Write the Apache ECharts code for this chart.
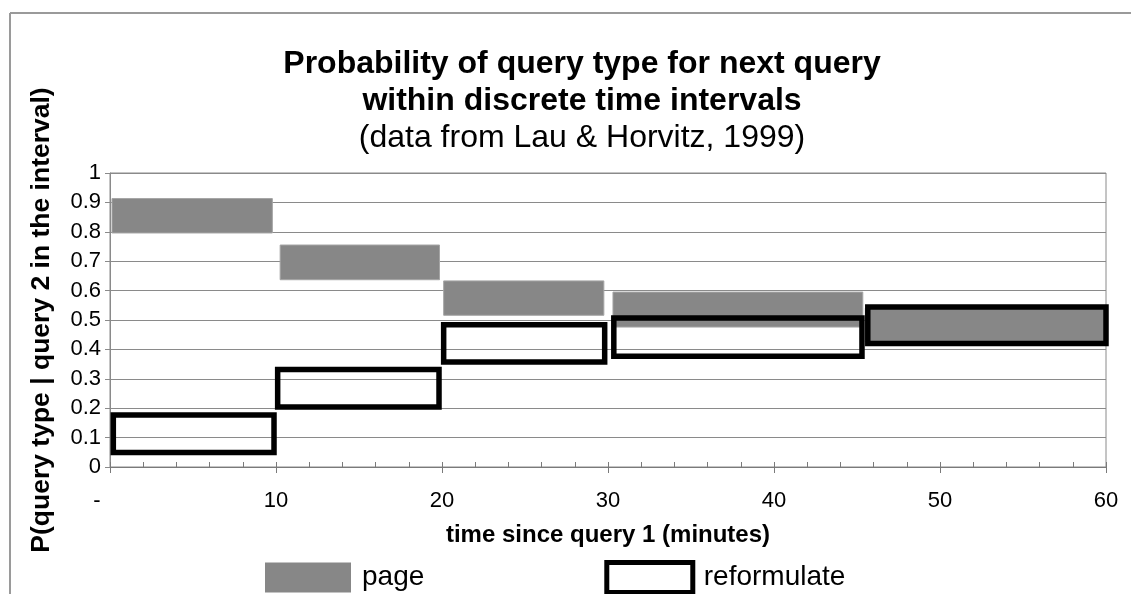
<!DOCTYPE html>
<html>
<head>
<meta charset="utf-8">
<script src="https://cdn.jsdelivr.net/npm/echarts@6/dist/echarts.min.js"></script>
<style>
  html, body { margin: 0; padding: 0; background: #fff; }
  #chart { width: 1131px; height: 594px; }
</style>
</head>
<body>
<div id="chart"></div>
<script>
// Time since query 1 (minutes): extent of each interval block
const pageStart   = [0.12, 10.25, 20.1, 30.3, 45.5];
const pageEnd     = [9.78, 19.85, 29.75, 45.35, 60];
// Probability range for "page" in each interval
const pageLow     = [0.796, 0.637, 0.516, 0.476, 0.425];
const pageHigh    = [0.913, 0.755, 0.633, 0.595, 0.540];

const reformStart = [0.2, 10.1, 20.1, 30.35, 45.65];
const reformEnd   = [9.88, 19.82, 29.8, 45.3, 60];
// Probability range for "reformulate" in each interval
const reformLow   = [0.049, 0.204, 0.357, 0.377, 0.420];
const reformHigh  = [0.177, 0.332, 0.484, 0.507, 0.544];

const xTicks = [0, 10, 20, 30, 40, 50, 60];
const yTicks = [0, 0.1, 0.2, 0.3, 0.4, 0.5, 0.6, 0.7, 0.8, 0.9, 1];

const FONT = '"Liberation Sans", Arial, sans-serif';

function rows(s, e, lo, hi) {
  return s.map((v, i) => [v, e[i], lo[i], hi[i]]);
}

function boxRenderer(style) {
  return function (params, api) {
    const p0 = api.coord([api.value(0), api.value(3)]);
    const p1 = api.coord([api.value(1), api.value(2)]);
    return {
      type: 'rect',
      shape: { x: p0[0], y: p0[1], width: p1[0] - p0[0], height: p1[1] - p0[1] },
      style: style
    };
  };
}

const chart = echarts.init(document.getElementById('chart'), null, { renderer: 'canvas' });

chart.setOption({
  backgroundColor: '#fff',
  animation: false,
  textStyle: { fontFamily: FONT, color: '#000' },
  title: {
    text: 'Probability of query type for next query\nwithin discrete time intervals',
    subtext: '(data from Lau & Horvitz, 1999)',
    left: 577,
    textAlign: 'center',
    top: 41,
    itemGap: 0,
    textStyle: { fontFamily: FONT, fontSize: 32, fontWeight: 'bold', color: '#000', lineHeight: 37 },
    subtextStyle: { fontFamily: FONT, fontSize: 32, color: '#000', lineHeight: 36 }
  },
  graphic: [
    { type: 'line', shape: { x1: 10, y1: 13, x2: 1131, y2: 13 }, style: { stroke: '#9a9a9a', lineWidth: 2 } },
    { type: 'line', shape: { x1: 10, y1: 13, x2: 10, y2: 594 }, style: { stroke: '#9a9a9a', lineWidth: 2 } }
  ],
  legend: {
    left: 260,
    top: 555,
    itemWidth: 86,
    itemHeight: 30,
    itemGap: 180,
    textStyle: { fontFamily: FONT, fontSize: 28, color: '#000', padding: [0, 0, 0, 6] },
    data: [
      { name: 'page', icon: 'rect', itemStyle: { color: '#878787', borderWidth: 0 } },
      { name: 'reformulate', icon: 'rect', itemStyle: { color: '#fff', borderColor: '#000', borderWidth: 5 } }
    ]
  },
  grid: {
    left: 110, right: 25, top: 173, bottom: 127,
    show: true, borderColor: '#8a8a8a', borderWidth: 1
  },
  xAxis: [
    {
      type: 'value', min: xTicks[0], max: xTicks[xTicks.length - 1], interval: 10,
      name: 'time since query 1 (minutes)',
      nameLocation: 'middle', nameGap: 56,
      nameTextStyle: { fontFamily: FONT, fontSize: 24, fontWeight: 'bold', color: '#000' },
      axisLine: { show: true, lineStyle: { color: '#7a7a7a', width: 1 } },
      axisTick: { show: true, inside: true, length: 5, lineStyle: { color: '#7a7a7a' } },
      minorTick: { show: true, splitNumber: 5, length: 5, lineStyle: { color: '#7a7a7a' } },
      splitLine: { show: false },
      axisLabel: {
        margin: 23, fontSize: 22, fontFamily: FONT, color: '#000',
        formatter: v => v === 0 ? '{d|-}' : String(v),
        rich: { d: { fontSize: 22, fontFamily: FONT, padding: [0, 26, 0, 0] } }
      }
    },
    {
      type: 'value', min: xTicks[0], max: xTicks[xTicks.length - 1], interval: 10,
      position: 'bottom',
      axisLine: { show: false },
      axisTick: { show: true, inside: false, length: 6, lineStyle: { color: '#7a7a7a' } },
      axisLabel: { show: false },
      splitLine: { show: false }
    }
  ],
  yAxis: {
    type: 'value', min: yTicks[0], max: yTicks[yTicks.length - 1], interval: 0.1,
    name: 'P(query type | query 2 in the interval)',
    nameLocation: 'middle', nameGap: 55,
    nameTextStyle: { fontFamily: FONT, fontSize: 26.5, fontWeight: 'bold', color: '#000' },
    axisLine: { show: true, lineStyle: { color: '#8a8a8a', width: 1 } },
    axisTick: { show: true, length: 5, lineStyle: { color: '#8a8a8a' } },
    splitLine: { show: true, lineStyle: { color: '#8a8a8a', width: 1 } },
    axisLabel: {
      margin: 9, fontSize: 22, fontFamily: FONT, color: '#000',
      formatter: v => String(Math.round(v * 10) / 10)
    }
  },
  series: [
    {
      name: 'page',
      type: 'custom',
      clip: false,
      renderItem: boxRenderer({ fill: '#878787', stroke: '#a5a5a5', lineWidth: 1 }),
      encode: { x: [0, 1], y: [2, 3] },
      itemStyle: { color: '#878787' },
      data: rows(pageStart, pageEnd, pageLow, pageHigh),
      z: 2
    },
    {
      name: 'reformulate',
      type: 'custom',
      clip: false,
      renderItem: boxRenderer({ fill: null, stroke: '#000', lineWidth: 5.5 }),
      encode: { x: [0, 1], y: [2, 3] },
      itemStyle: { color: '#fff', borderColor: '#000', borderWidth: 5 },
      data: rows(reformStart, reformEnd, reformLow, reformHigh),
      z: 3
    }
  ]
});
</script>
</body>
</html>
